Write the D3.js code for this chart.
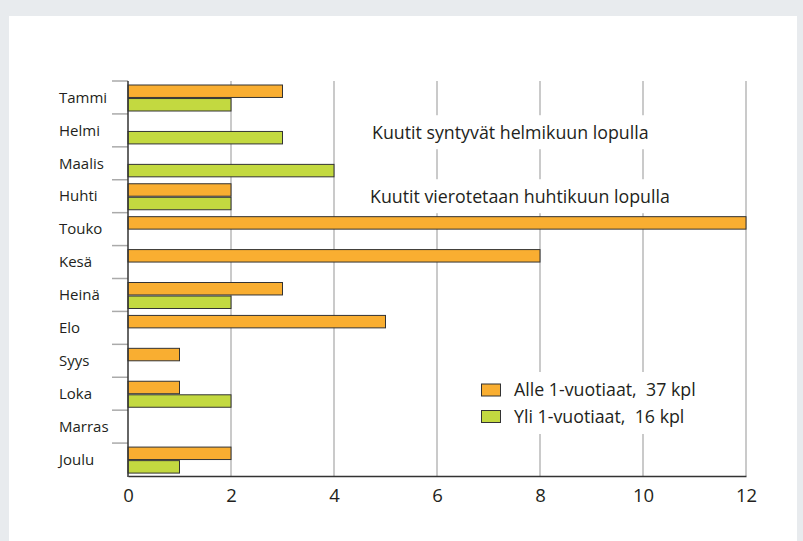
<!DOCTYPE html>
<html>
<head>
<meta charset="utf-8">
<script src="https://cdn.jsdelivr.net/npm/d3@7"></script>
<style>
  html, body { margin: 0; padding: 0; background: #e8ebee; }
  svg { display: block; font-family: "Open Sans", sans-serif; }
</style>
</head>
<body>
<script>
const months = ['Tammi', 'Helmi', 'Maalis', 'Huhti', 'Touko', 'Kesä', 'Heinä', 'Elo', 'Syys', 'Loka', 'Marras', 'Joulu']
const under1 = [3, 0, 0, 2, 12, 8, 3, 5, 1, 1, 0, 2]
const over1 = [2, 3, 4, 2, 0, 0, 2, 0, 0, 2, 0, 1]
const seriesNames = ['Alle 1-vuotiaat,  37 kpl', 'Yli 1-vuotiaat,  16 kpl']
const seriesColors = ['#f9ae31', '#c3d940']
const xTicks = [0, 2, 4, 6, 8, 10, 12]
const notes = ['Kuutit syntyvät helmikuun lopulla', 'Kuutit vierotetaan huhtikuun lopulla']

const W = 803, H = 541
const svg = d3.select('body').append('svg').attr('width', W).attr('height', H)

svg.append('rect').attr('x', 9).attr('y', 16).attr('width', 788).attr('height', H - 16).attr('fill', '#fff')

const x = d3.scaleLinear().domain([0, 12]).range([128, 746])
const y = d3.scaleBand().domain(months).range([81, 476])
const sub = d3.scaleBand().domain([0, 1]).range([4, 30]).paddingInner(0.08)

// grid
svg.append('g').selectAll('line').data(xTicks.slice(1)).join('line')
  .attr('x1', d => x(d)).attr('x2', d => x(d))
  .attr('y1', 81).attr('y2', 476)
  .attr('stroke', '#b8b8b8').attr('stroke-width', 1.5)

// left ticks at band boundaries
svg.append('g').selectAll('line').data(months).join('line')
  .attr('x1', 112).attr('x2', 128)
  .attr('y1', d => y(d)).attr('y2', d => y(d))
  .attr('stroke', '#aaa').attr('stroke-width', 1.5)

// annotations with white backing
const noteY = [133, 197]
const noteX = [372, 370]
notes.forEach((t, i) => {
  const g = svg.append('g')
  const txt = g.append('text').attr('x', noteX[i]).attr('y', noteY[i]).attr('dy', '0.35em')
    .attr('font-size', 17.8).attr('fill', '#231f20').text(t)
  const b = txt.node().getBBox()
  g.insert('rect', 'text').attr('x', b.x - 4).attr('y', b.y - 5).attr('width', b.width + 8).attr('height', b.height + 10).attr('fill', '#fff')
})

// legend
const legend = svg.append('g')
legend.append('rect').attr('x', 474).attr('y', 372).attr('width', 232).attr('height', 62).attr('fill', '#fff')
seriesNames.forEach((name, i) => {
  const cy = 390 + i * 26.5
  legend.append('rect').attr('x', 481.5).attr('y', cy - 6).attr('width', 19).attr('height', 12)
    .attr('fill', seriesColors[i]).attr('stroke', '#333').attr('stroke-width', 1)
  legend.append('text').attr('x', 514).attr('y', cy).attr('dy', '0.35em')
    .attr('font-size', 17.8).attr('fill', '#231f20')
    .style('white-space', 'pre').text(name)
})

// bars
const rows = months.map((m, i) => ({ m, vals: [under1[i], over1[i]] }))
const groups = svg.append('g').selectAll('g').data(rows).join('g')
  .attr('transform', d => `translate(0,${y(d.m)})`)
groups.selectAll('rect').data(d => d.vals.map((v, k) => ({ v, k }))).join('rect')
  .attr('x', x(0)).attr('y', d => sub(d.k))
  .attr('width', d => x(d.v) - x(0)).attr('height', sub.bandwidth())
  .attr('fill', d => seriesColors[d.k]).attr('stroke', '#333').attr('stroke-width', 1)

// category labels
svg.append('g').selectAll('text').data(months).join('text')
  .attr('x', 59).attr('y', d => y(d) + y.bandwidth() / 2).attr('dy', '0.35em')
  .attr('font-size', 15).attr('fill', '#231f20').text(d => d)

// axes lines
svg.append('line').attr('x1', 128).attr('x2', 128).attr('y1', 81).attr('y2', 477)
  .attr('stroke', '#333').attr('stroke-width', 1.5)
const xAxis = svg.append('g').attr('transform', 'translate(0,476)')
  .call(d3.axisBottom(x).tickValues(xTicks).tickSize(0).tickPadding(13))
xAxis.select('.domain').attr('stroke', '#333').attr('stroke-width', 1.5)
xAxis.selectAll('text').attr('font-size', 18.5).attr('font-family', '"Open Sans", sans-serif').attr('fill', '#231f20')
</script>
</body>
</html>
